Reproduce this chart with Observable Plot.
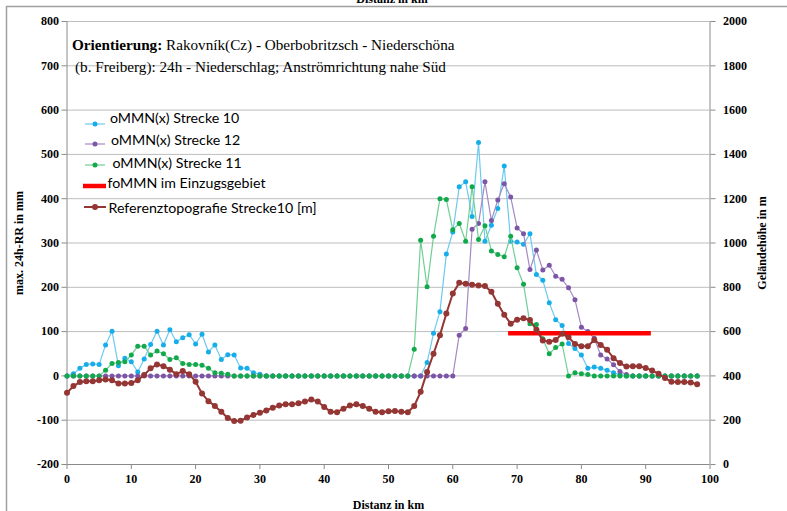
<!DOCTYPE html>
<html><head><meta charset="utf-8">
<script src="https://cdn.jsdelivr.net/npm/d3@7"></script>
<script src="https://cdn.jsdelivr.net/npm/@observablehq/plot@0.6"></script>
<style>
body{margin:0;background:#fff;}
#wrap{position:relative;width:787px;height:511px;overflow:hidden;background:#fff;}
#wrap svg{position:absolute;left:0;top:0;}
</style></head><body><div id="wrap"></div>
<script>
// ---- data (1 km steps) ----
const km = d3.range(0, 99);
const strecke10 = [0,5,17,26,27,26,70,101,23,40,32,9,38,71,101,70,104,77,86,93,72,94,54,70,37,48,47,18,17,7,4,
  0,0,0,0,0,0,0,0,0,0,0,0,0,0,0,0,0,0,0,0,0,0,0,0,0,
  30,96,145,275,325,427,438,360,527,304,340,378,474,304,302,297,321,229,216,165,127,114,73,62,47,17,20,17,13,7,3,
  0,0,0,0,0,0,0,0,0,0,0,0];
const strecke12 = [0,0,0,0,0,0,0,0,0,0,0,0,0,0,0,0,0,0,0,0,0,0,0,0,0,0,0,0,0,0,
  0,0,0,0,0,0,0,0,0,0,0,0,0,0,0,0,0,0,0,0,0,0,0,0,0,0,0,0,0,0,0,
  92,107,331,344,438,351,397,434,404,334,321,240,284,239,250,225,218,199,172,110,100,85,47,38,25,10,3,
  0,0,0,0,0,0,0,0,0,0,0];
const strecke11 = [0,0,0,0,0,0,13,28,30,32,47,67,67,47,56,50,37,41,28,26,26,24,17,7,6,4,
  0,0,0,0,0,0,0,0,0,0,0,0,0,0,0,0,0,0,0,0,0,0,0,0,0,0,0,0,
  60,306,201,315,400,398,330,344,304,427,308,339,282,274,269,315,244,207,118,116,84,50,64,72,0,7,5,3,
  0,0,0,0,0,0,0,0,0,0,0,0,0,0,0,0,0];
const topoM = [324,354,372,376,376,380,384,380,366,366,368,380,404,434,452,444,428,408,422,408,
  374,320,286,264,238,210,196,198,212,224,234,244,256,266,272,272,276,284,294,284,
  260,238,236,252,266,272,264,252,238,236,240,242,238,236,264,328,418,500,584,682,
  772,820,816,812,808,806,780,726,676,636,654,660,652,608,560,554,562,590,574,544,
  534,534,562,540,518,480,458,442,444,444,436,424,410,390,374,372,372,370,362];
const foMMN_km = [68.6, 90.8];
const foMMN_value = 96;
const leftTicks = d3.range(-200, 801, 100);
const rightTickLabels = d3.range(0, 2001, 200);
const xTicks = d3.range(0, 101, 10);
const seriesNames = ["oMMN(x) Strecke 10","oMMN(x) Strecke 12","oMMN(x) Strecke 11","foMMN im Einzugsgebiet","Referenztopografie Strecke10 [m]"];
const titleBold = "Orientierung:";
const titleRest1 = " Rakovník(Cz) - Oberbobritzsch - Niederschöna";
const titleLine2 = "(b. Freiberg): 24h - Niederschlag; Anströmrichtung nahe Süd";

// secondary axis (0..2000 m) shares the frame with the primary axis (-200..800 mm)
const mToLeft = m => m / 2 - 200;

const rows = vals => km.map((k, i) => ({k, v: vals[i]}));
const s10 = rows(strecke10), s12 = rows(strecke12), s11 = rows(strecke11);
const topo = km.map((k, i) => ({k, v: mToLeft(topoM[i])}));
const fo = foMMN_km.map(k => ({k, v: foMMN_value}));

const C = {
  blueDot:"#17ade9", blueLine:"#6cc9f0",
  purpDot:"#7d55a6", purpLine:"#a48ac4",
  greenDot:"#12a94c", greenLine:"#6fcf94",
  red:"#ff0000", brown:"#943634"
};
const serif = "'Liberation Serif','Times New Roman',serif";

const chart = Plot.plot({
  width: 787, height: 511,
  marginLeft: 66.5, marginRight: 77.5, marginTop: 21, marginBottom: 47,
  style: {fontFamily: serif, fontSize: "12px", fontWeight: "bold", color: "#000", background: "transparent"},
  x: {domain: [0, 100]},
  y: {domain: [-200, 800]},
  marks: [
    Plot.gridY(leftTicks, {stroke: "#bdbdbd", strokeOpacity: 1}),
    Plot.ruleX([0, 100], {stroke: "#8a8a8a"}),
    Plot.ruleY([-200], {stroke: "#8a8a8a"}),
    Plot.axisY({ticks: leftTicks, tickSize: 5, tickPadding: 3, stroke: "#8a8a8a", tickFormat: d => String(d),
      label: "max. 24h-RR in mm", labelAnchor: "center", labelArrow: "none", labelOffset: 53}),
    Plot.axisY({anchor: "right", ticks: leftTicks, tickSize: 5, tickPadding: 8, stroke: "#8a8a8a",
      tickFormat: d => String(rightTickLabels[leftTicks.indexOf(d)]),
      label: "Geländehöhe in m", labelAnchor: "center", labelArrow: "none", labelOffset: 56}),
    Plot.axisX({ticks: xTicks, tickSize: 5, tickPadding: 5, stroke: "#8a8a8a", tickFormat: d => String(d),
      label: "Distanz in km", labelAnchor: "center", labelArrow: "none", labelOffset: 44}),
    Plot.line(s10, {x: "k", y: "v", stroke: C.blueLine, strokeWidth: 1.2}),
    Plot.dot(s10, {x: "k", y: "v", fill: C.blueDot, r: 2.5}),
    Plot.line(s12, {x: "k", y: "v", stroke: C.purpLine, strokeWidth: 1.2}),
    Plot.dot(s12, {x: "k", y: "v", fill: C.purpDot, r: 2.5}),
    Plot.line(s11, {x: "k", y: "v", stroke: C.greenLine, strokeWidth: 1.2}),
    Plot.dot(s11, {x: "k", y: "v", fill: C.greenDot, r: 2.5}),
    Plot.line(fo, {x: "k", y: "v", stroke: C.red, strokeWidth: 4.5, strokeLinecap: "butt"}),
    Plot.line(topo, {x: "k", y: "v", stroke: C.brown, strokeWidth: 2}),
    Plot.dot(topo, {x: "k", y: "v", fill: C.brown, r: 3})
  ]
});
const wrap = document.getElementById("wrap");
wrap.appendChild(chart);

// overlay: frame, annotation and legend
const ov = d3.create("svg").attr("width", 787).attr("height", 511);
ov.append("line").attr("x1", 6).attr("x2", 787).attr("y1", 6.5).attr("y2", 6.5).attr("stroke", "#a0a0a0").attr("stroke-width", 1.5);
ov.append("line").attr("x1", 6.5).attr("x2", 6.5).attr("y1", 6).attr("y2", 511).attr("stroke", "#a0a0a0").attr("stroke-width", 1.5);
ov.append("text").attr("x", 392).attr("y", 3).attr("text-anchor", "middle")
  .attr("font-family", serif).attr("font-weight", "bold").attr("font-size", 12).text("Distanz in km");

const t1 = ov.append("text").attr("x", 72).attr("y", 50).attr("font-family", serif).attr("font-size", 15.2).attr("fill", "#000");
t1.append("tspan").attr("font-weight", "bold").text(titleBold);
t1.append("tspan").text(titleRest1);
ov.append("text").attr("x", 75).attr("y", 72).attr("font-family", serif).attr("font-size", 15.2).attr("fill", "#000").text(titleLine2);

const legFont = "Lato, 'Open Sans', sans-serif";
const leg = [
  {name: seriesNames[0], dot: C.blueDot, line: C.blueLine, sy: 124, tx: 110, ty: 118},
  {name: seriesNames[1], dot: C.purpDot, line: C.purpLine, sy: 144, tx: 111, ty: 140.5},
  {name: seriesNames[2], dot: C.greenDot, line: C.greenLine, sy: 165, tx: 112.5, ty: 163},
  {name: seriesNames[3], dot: null, line: C.red, sy: 186, tx: 107.5, ty: 183, w: 4.5, x1: 83, x2: 106},
  {name: seriesNames[4], dot: C.brown, line: C.brown, sy: 207, tx: 108.5, ty: 208, w: 2, r: 3, x1: 84, x2: 106}
];
for (const e of leg) {
  ov.append("line").attr("x1", e.x1 ?? 85).attr("x2", e.x2 ?? 105).attr("y1", e.sy).attr("y2", e.sy)
    .attr("stroke", e.line).attr("stroke-width", e.w ?? 1.2);
  if (e.dot) ov.append("circle").attr("cx", ((e.x1 ?? 85) + (e.x2 ?? 105)) / 2).attr("cy", e.sy).attr("r", e.r ?? 2.5).attr("fill", e.dot);
  ov.append("text").attr("x", e.tx).attr("y", e.ty).attr("dy", "0.35em").attr("font-family", legFont)
    .attr("font-size", 14.2).attr("fill", "#000").text(e.name);
}
wrap.appendChild(ov.node());
</script></body></html>
